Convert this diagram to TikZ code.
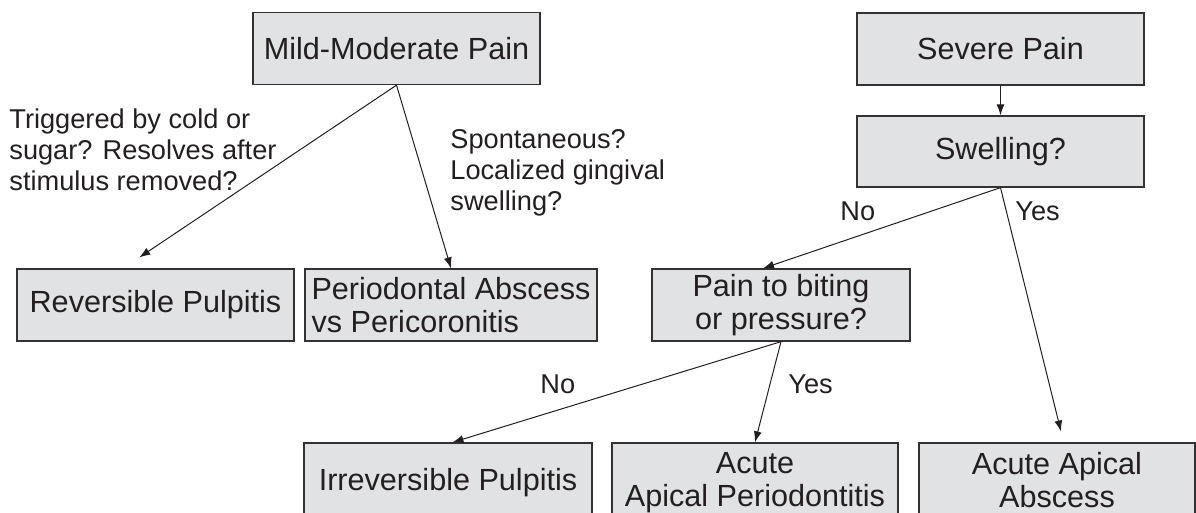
\documentclass[tikz,border=0pt]{standalone}
\usepackage{fontspec}
\setmainfont{Liberation Sans}
\usetikzlibrary{arrows.meta,calc}

\definecolor{boxfill}{RGB}{225,226,228}
\definecolor{boxline}{RGB}{50,50,52}
\definecolor{ink}{RGB}{35,31,32}

\tikzset{
	box/.style={draw=boxline, fill=boxfill, line width=0.65pt, inner sep=0pt,
		minimum height=36pt, text=ink, align=center,
		font=\fontsize{15.3}{16.5}\selectfont},
	note/.style={inner sep=0pt, text=ink, align=left, anchor=base west,
		font=\fontsize{13.6}{15.5}\selectfont},
	arr/.style={draw=ink, line width=0.5pt, -{Latex[length=5.5pt,width=4pt]}}
}

\begin{document}
\begin{tikzpicture}[x=0.5pt,y=-0.5pt]
	\clip (0,0) rectangle (1196,513);
	
	%% top row
	\node[box, minimum width=143.5pt] (mild) at (396.5,48.5) {Mild-Moderate Pain};
	\node[box, minimum width=143.5pt] (severe) at (1000.5,49) {Severe Pain};
	\node[box, minimum width=143.5pt, minimum height=35.5pt] (swell) at (1000.5,151.5) {Swelling?};
	
	%% middle row
	\node[box, minimum width=138.5pt] (rev) at (155.5,305) {Reversible Pulpitis};
	\node[box, minimum width=146pt, align=left] (perio) at (451,305) {Periodontal Abscess\\vs Pericoronitis};
	\node[box, minimum width=129pt] (bite) at (781,305) {Pain to biting\\or pressure?};
	
	%% bottom row (cut by the page edge)
	\node[box, minimum width=144pt, minimum height=40pt] (irr) at (448,483) {Irreversible Pulpitis};
	\node[box, minimum width=143pt, minimum height=40pt] (acap) at (755,483) {Acute\\Apical Periodontitis};
	\node[box, minimum width=138pt, minimum height=40pt] (abs) at (1057,483) {Acute Apical\\Abscess\vphantom{p}};
	
	%% questions
	\node[note] (trig) at (9,191) {Triggered by cold or\\sugar? Resolves after\\stimulus removed?};
	\node[note] (spont) at (450,211) {Spontaneous?\\Localized gingival\\swelling?};
	\node[note] (swno) at (840,221) {No};
	\node[note] (swyes) at (1015,221) {Yes};
	\node[note] (bino) at (540,394) {No};
	\node[note] (biyes) at (788,394) {Yes};
	
	%% arrows
	\draw[arr, shorten >=9.8pt] (mild.south) -- ($(rev.north)+(-32.5,0)$);
	\draw[arr] (mild.south) -- (perio.north);
	\draw[arr] (severe.south) -- (swell.north);
	\draw[arr] (swell.south) -- ($(bite.north)+(-18,0)$);
	\draw[arr, shorten >=5.6pt] (swell.south) -- ($(abs.north)+(6.7,0)$);
	\draw[arr] (bite.south) -- ($(irr.north)+(4.5,0)$);
	\draw[arr] (bite.south) -- (acap.north);
\end{tikzpicture}
\end{document}
